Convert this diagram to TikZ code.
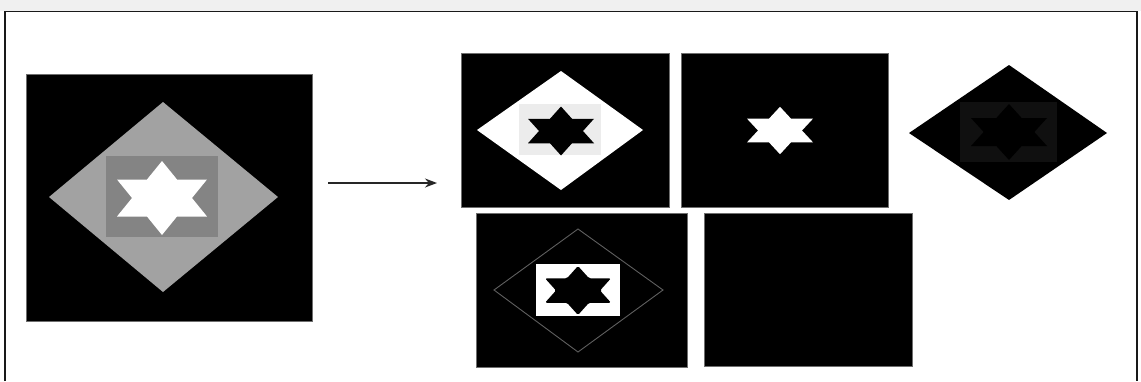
\documentclass[tikz,border=0pt]{standalone}
\usetikzlibrary{arrows.meta}
\definecolor{bandgray}{RGB}{240,240,240}
\definecolor{framecol}{RGB}{25,25,25}
\definecolor{dmdgray}{RGB}{162,162,162}
\definecolor{rectgray}{RGB}{132,132,132}
\definecolor{palegray}{RGB}{236,236,236}
\definecolor{faintgray}{RGB}{16,16,16}
\definecolor{edgegray}{RGB}{110,110,110}
\definecolor{linegray}{RGB}{95,95,95}
\newcommand{\hexstarpath}[4]{% cx cy w h
  (#1,#2-#4) -- (#1+#3/3,#2-#4/2) -- (#1+#3,#2-#4/2) -- (#1+2*#3/3,#2)
  -- (#1+#3,#2+#4/2) -- (#1+#3/3,#2+#4/2) -- (#1,#2+#4)
  -- (#1-#3/3,#2+#4/2) -- (#1-#3,#2+#4/2) -- (#1-2*#3/3,#2)
  -- (#1-#3,#2-#4/2) -- (#1-#3/3,#2-#4/2) -- cycle}
\tikzset{
  panel/.style={fill=black, draw=edgegray, line width=0.8pt},
  framestyle/.style={draw=framecol, line width=1.8pt},
  flow/.style={draw=black!85, line width=1.5pt, -{Stealth[length=12pt,width=9pt]}}
}
\begin{document}
\begin{tikzpicture}[x=1pt,y=-1pt]
\useasboundingbox (0,0) rectangle (1141,381);
\fill[white] (0,0) rectangle (1141,381);
\fill[bandgray] (0,0) rectangle (1141,11);
\draw[framestyle] (5,381) -- (5,11.5) -- (1137,11.5) -- (1137,381);

% input image
\draw[panel] (26,74) rectangle (312,321);
\fill[dmdgray] (163,102) -- (278,197) -- (163,292) -- (49,197) -- cycle;
\fill[rectgray] (106,156) rectangle (218,237);
\fill[white] \hexstarpath{162}{198}{45}{37};

% arrow
\coordinate (arrowstart) at (328,183);
\coordinate (arrowend) at (437,183);
\draw[flow] (arrowstart) -- (arrowend);

% top result 1
\draw[panel] (461,53) rectangle (669,207);
\fill[white] (561,71) -- (643,130) -- (561,190) -- (477,130) -- cycle;
\fill[palegray] (519,104) rectangle (601,155);
\fill[black] \hexstarpath{561}{131}{33}{24.5};

% top result 2
\draw[panel] (681,53) rectangle (888,207);
\fill[white] \hexstarpath{780}{130.5}{33}{23.7};

% right diamond
\fill[black] (1009,65) -- (1107,133) -- (1009,200) -- (909,133) -- cycle;
\fill[faintgray] (960,102) rectangle (1057,162);
\fill[black] \hexstarpath{1009}{132}{38}{28};

% bottom result 1
\draw[panel] (476,213) rectangle (687,367);
\draw[linegray, line width=0.9pt] (578,229) -- (663,290) -- (578,352) -- (494,290) -- cycle;
\fill[white] (536,264) rectangle (620,316);
\fill[black, rounded corners=1.5pt] \hexstarpath{578}{290.5}{33}{24.5};

% bottom result 2
\draw[panel] (704,213) rectangle (912,366);
\end{tikzpicture}
\end{document}
